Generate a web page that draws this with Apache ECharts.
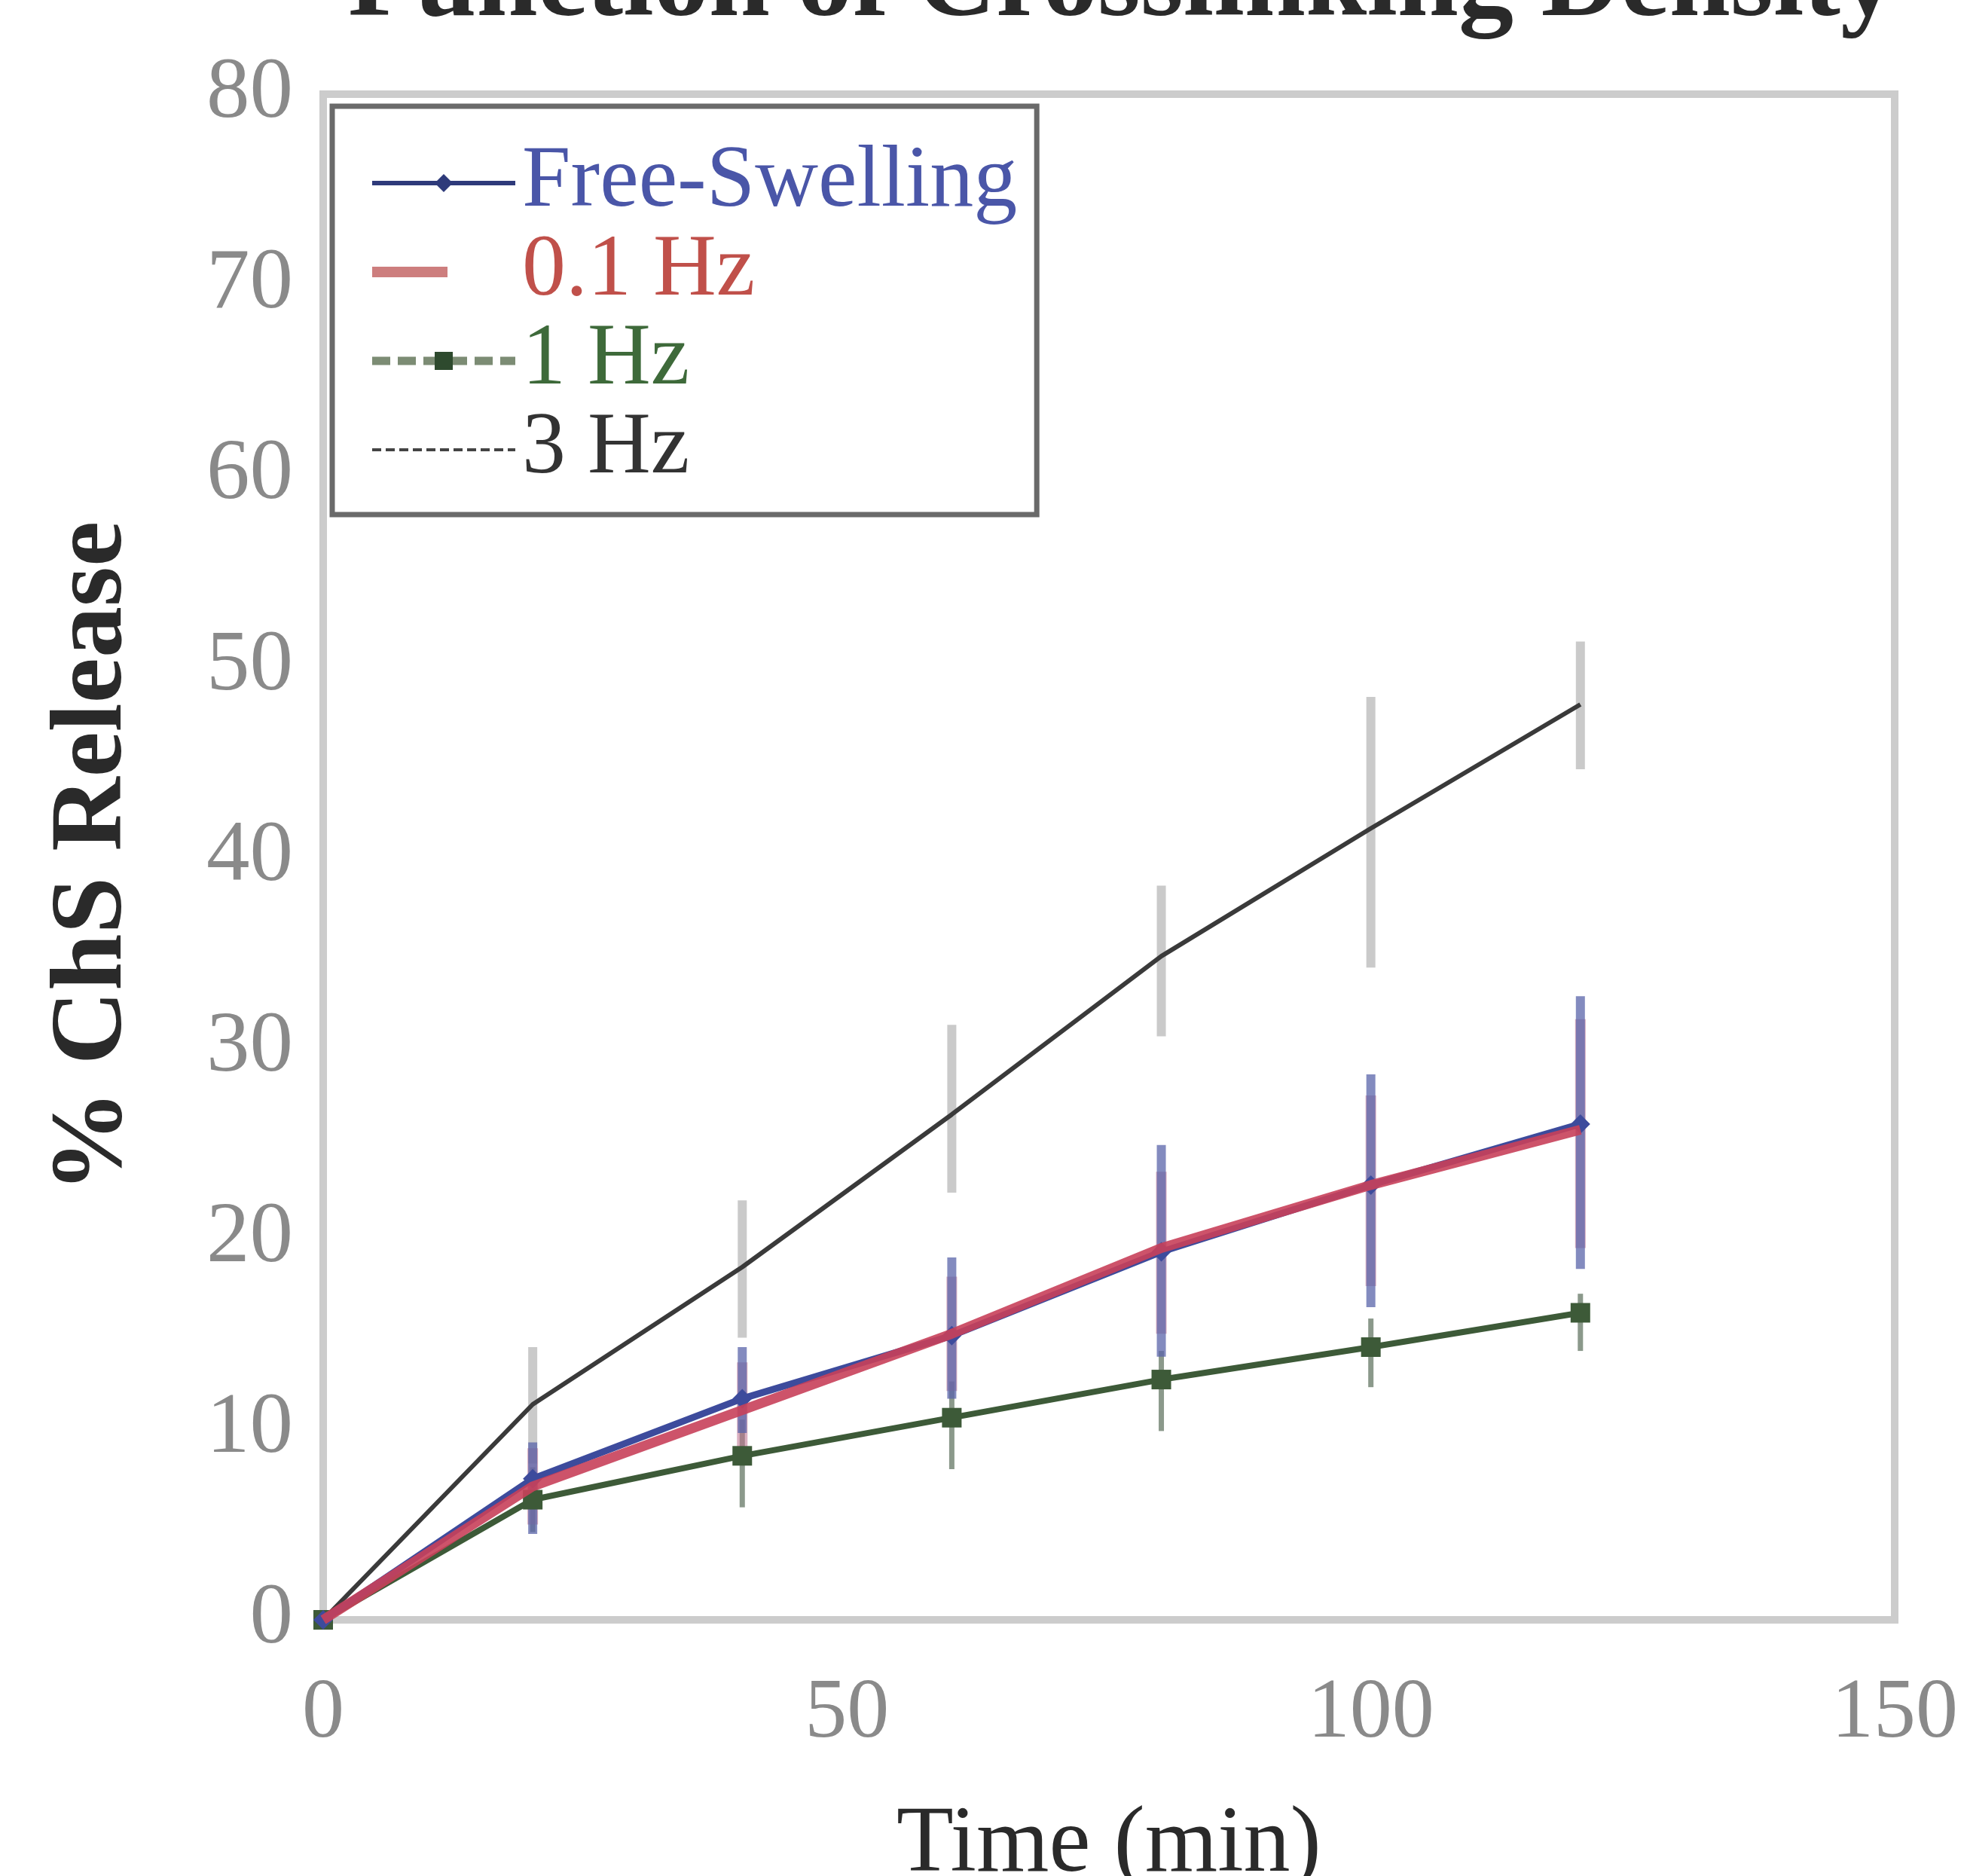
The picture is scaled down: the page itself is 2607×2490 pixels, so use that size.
<!DOCTYPE html>
<html><head><meta charset="utf-8">
<script src="https://cdn.jsdelivr.net/npm/echarts@6/dist/echarts.min.js"></script>
<style>html,body{margin:0;padding:0;background:#fff}#c{width:2607px;height:2490px}</style>
</head><body><div id="c"></div>
<script>
const times = [0, 20, 40, 60, 80, 100, 120];
const seriesNames = ['Free-Swelling', '0.1 Hz', '1 Hz', '3 Hz'];
const freeSwelling = [0, 7.4, 11.6, 14.9, 19.3, 22.8, 26.0];
const freeLow  = [0, 4.5, 9.8, 11.6, 13.8, 16.4, 18.4];
const freeHigh = [0, 9.3, 14.3, 19.0, 24.9, 28.6, 32.7];
const hz01 = [0, 7.0, 11.0, 15.0, 19.5, 22.8, 25.7];
const hz01Low  = [0, 5.0, 9.0, 12.0, 15.0, 17.5, 19.5];
const hz01High = [0, 9.0, 13.5, 18.0, 23.5, 27.5, 31.5];
const hz1 = [0, 6.3, 8.6, 10.6, 12.6, 14.3, 16.1];
const hz1Low  = [0, 4.6, 5.9, 7.9, 9.9, 12.2, 14.1];
const hz1High = [0, 8.0, 10.5, 12.5, 14.1, 15.8, 17.1];
const hz3 = [0, 11.3, 18.5, 26.5, 34.8, 41.5, 48.0];
const hz3Low  = [0, 8.2, 14.8, 22.4, 30.6, 34.2, 44.6];
const hz3High = [0, 14.3, 22.0, 31.2, 38.5, 48.4, 51.3];
const yTicks = [0, 10, 20, 30, 40, 50, 60, 70, 80];
const xTicks = [0, 50, 100, 150];

const colors = ['#3d4b9c', '#c8405a', '#3d5a38', '#3a3a3a'];
const errColors = ['rgba(90,100,170,0.75)', 'rgba(190,110,140,0.55)', 'rgba(90,110,90,0.7)', 'rgba(180,180,180,0.7)'];
const serif = '"Liberation Serif","DejaVu Serif",serif';

function pairs(v){ return times.map((t,i)=>[t, v[i]]); }
function errData(lo, hi){ return times.map((t,i)=>[t, lo[i], hi[i]]).filter((d,i)=>i>0); }
function errSeries(lo, hi, color, w, z){
  return {
    type: 'custom', z: z, silent: true,
    data: errData(lo, hi),
    renderItem: function(params, api){
      const a = api.coord([api.value(0), api.value(1)]);
      const b = api.coord([api.value(0), api.value(2)]);
      return {type:'line', shape:{x1:a[0], y1:a[1], x2:b[0], y2:b[1]}, style:{stroke:color, lineWidth:w}};
    }
  };
}

const chart = echarts.init(document.getElementById('c'));
chart.setOption({
  backgroundColor: '#ffffff',
  animation: false,
  title: {
    text: 'Function of Crosslinking Density',
    left: 1484, textAlign: 'center', top: -96,
    textStyle: {fontFamily: serif, fontSize: 146, fontWeight: 'bold', color: '#2a2a2a'}
  },
  legend: {
    left: 441, top: 141, orient: 'vertical',
    padding: [44, 26, 28, 46],
    itemWidth: 190, itemHeight: 30, itemGap: 2,
    borderColor: '#6a6a6a', borderWidth: 7, backgroundColor: '#fff',
    textStyle: {fontFamily: serif, fontSize: 116, lineHeight: 105, padding: [0,0,0,4]},
    data: [
      {name: 'Free-Swelling', textStyle: {color: '#4a56a8'},
        lineStyle: {width: 6, color: '#2e3a7a'}, itemStyle: {color: '#2e3a7a'}},
      {name: '0.1 Hz', textStyle: {color: '#c0504a'},
        lineStyle: {width: 14, color: '#c87070', type: [100, 300]}, itemStyle: {opacity: 0}},
      {name: '1 Hz', textStyle: {color: '#3e6a3a'},
        lineStyle: {width: 11, color: '#7c8c74', type: [24, 10]}, itemStyle: {color: '#2e4a2e'}},
      {name: '3 Hz', textStyle: {color: '#333333'},
        lineStyle: {width: 4, color: '#444444', type: [12, 6]}, itemStyle: {opacity: 0}}
    ]
  },
  grid: {left: 429, right: 92, top: 125, bottom: 340, show: true, borderColor: '#cccccc', borderWidth: 10, outerBoundsMode: 'none', containLabel: false},
  xAxis: {
    type: 'value', min: 0, max: 150, interval: 50,
    name: 'Time (min)', nameLocation: 'middle', nameGap: 238,
    nameTextStyle: {fontFamily: serif, fontSize: 124, color: '#2a2a2a'},
    axisLine: {show: false}, axisTick: {show: false}, splitLine: {show: false},
    axisLabel: {fontFamily: serif, fontSize: 112, color: '#8a8a8a', margin: 70,
      formatter: v => xTicks.includes(v) ? String(v) : ''}
  },
  yAxis: {
    type: 'value', min: 0, max: 80, interval: 10,
    name: '% ChS Release', nameLocation: 'middle', nameGap: 236, nameRotate: 90,
    nameTextStyle: {fontFamily: serif, fontSize: 136, fontWeight: 'bold', color: '#2a2a2a'},
    axisLine: {show: false}, axisTick: {show: false}, splitLine: {show: false},
    axisLabel: {fontFamily: serif, fontSize: 115, color: '#8a8a8a', margin: 40,
      formatter: v => yTicks.includes(v) ? String(v) : ''}
  },
  series: [
    errSeries(hz3Low, hz3High, errColors[3], 12, 1),
    errSeries(hz1Low, hz1High, errColors[2], 7, 2),
    errSeries(hz01Low, hz01High, errColors[1], 14, 2),
    errSeries(freeLow, freeHigh, errColors[0], 12, 3),
    {name: seriesNames[0], type: 'line', data: pairs(freeSwelling), z: 5,
      symbol: 'diamond', symbolSize: 26, showSymbol: true,
      lineStyle: {color: colors[0], width: 9}, itemStyle: {color: colors[0]}},
    {name: seriesNames[1], type: 'line', data: pairs(hz01), z: 6,
      symbol: 'none',
      lineStyle: {color: colors[1], width: 13, opacity: 0.9}, itemStyle: {color: colors[1]}},
    {name: seriesNames[2], type: 'line', data: pairs(hz1), z: 4,
      symbol: 'rect', symbolSize: 26,
      lineStyle: {color: colors[2], width: 8}, itemStyle: {color: colors[2]}},
    {name: seriesNames[3], type: 'line', data: pairs(hz3), z: 4,
      symbol: 'none',
      lineStyle: {color: colors[3], width: 6}, itemStyle: {color: colors[3]}}
  ]
});
</script></body></html>
